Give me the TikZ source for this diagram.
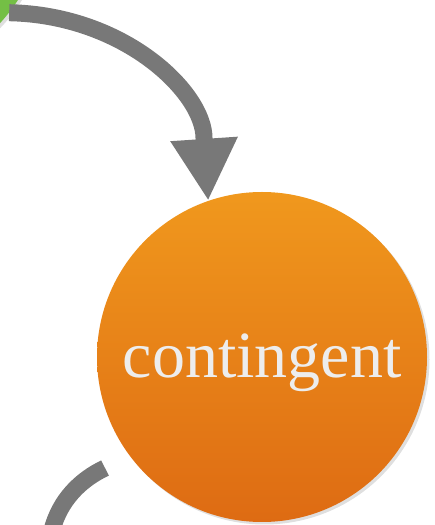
\documentclass[tikz,border=0pt]{standalone}
\usepackage{fontspec}
\setmainfont{Liberation Serif}
\usepackage{xcolor}
\usetikzlibrary{arrows.meta,shadows,calc}
\definecolor{ringgray}{HTML}{787878}
\definecolor{softgreen}{HTML}{74BF45}
\definecolor{orangetop}{HTML}{F0981D}
\definecolor{orangebot}{HTML}{DE6B13}
\definecolor{labelgray}{HTML}{EDEDED}

\begin{document}
\begin{tikzpicture}[x=1pt, y=1pt,
  phase/.style={circle, minimum size=330pt, inner sep=0pt,
    drop shadow={shadow xshift=2.5pt, shadow yshift=-2.5pt, opacity=0.25}},
  lbl/.style={text=labelgray, font=\fontsize{66}{70}\selectfont},
  arr/.style={draw=ringgray, line width=17pt, line cap=butt,
    -{Triangle[width=63pt, length=62pt]}},
  link/.style={draw=ringgray, line width=17pt, line cap=butt}
]
  \useasboundingbox (0,0) rectangle (434,525);
  \clip (0,0) rectangle (434,525);

  \node[phase, fill=softgreen] (prev) at (-121,614) {};
  \node[phase, top color=orangetop, bottom color=orangebot] (contingent) at (262,168) {};
  \node[lbl, anchor=base] (clabel) at ([yshift=-21pt]contingent.center) {contingent};

  \coordinate (outstart) at (105,57);
  \coordinate (nextin) at (52,-5);

  \draw[arr] (prev.-38) .. controls (125,510) and (204,432) .. (204,387) -- (contingent.109);
  \draw[link] (outstart) .. controls (80,45) and (60,25) .. (nextin);
\end{tikzpicture}
\end{document}
